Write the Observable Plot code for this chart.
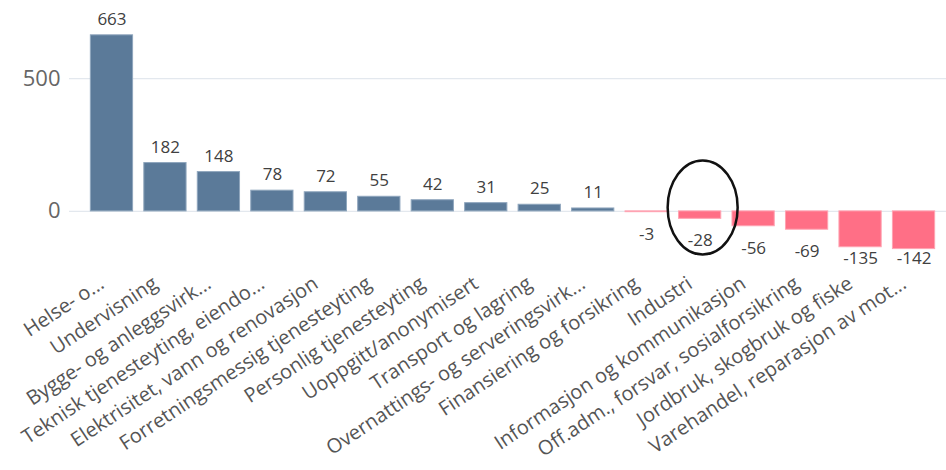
<!DOCTYPE html>
<html>
<head>
<meta charset="utf-8">
<script src="https://cdn.jsdelivr.net/npm/d3@7"></script>
<script src="https://cdn.jsdelivr.net/npm/@observablehq/plot@0.6"></script>
<style>
  html, body { margin: 0; padding: 0; background: #fff; }
  svg { display: block; }
</style>
</head>
<body>
<div id="chart"></div>
<script>
const categories = [
  "Helse- o...",
  "Undervisning",
  "Bygge- og anleggsvirk...",
  "Teknisk tjenesteyting, eiendo...",
  "Elektrisitet, vann og renovasjon",
  "Forretningsmessig tjenesteyting",
  "Personlig tjenesteyting",
  "Uoppgitt/anonymisert",
  "Transport og lagring",
  "Overnattings- og serveringsvirk...",
  "Finansiering og forsikring",
  "Industri",
  "Informasjon og kommunikasjon",
  "Off.adm., forsvar, sosialforsikring",
  "Jordbruk, skogbruk og fiske",
  "Varehandel, reparasjon av mot..."
];
const values = [663, 182, 148, 78, 72, 55, 42, 31, 25, 11, -3, -28, -56, -69, -135, -142];
const yTicks = [0, 500];
const highlighted = "Industri";

const data = categories.map((c, i) => ({category: c, value: values[i]}));
const pos = data.filter(d => d.value >= 0);
const neg = data.filter(d => d.value < 0);

const font = "'Open Sans', sans-serif";

const chart = Plot.plot({
  width: 946,
  height: 470,
  marginLeft: 85,
  marginRight: 6,
  marginTop: 25,
  marginBottom: 206,
  style: {fontFamily: font, background: "#fff"},
  x: {domain: categories, paddingInner: 0.21, paddingOuter: 0.1, round: false, label: null},
  y: {domain: [-200, 700], label: null},
  marks: [
    Plot.ruleY(yTicks, {stroke: "#e3e8ee", strokeWidth: 1.2, insetLeft: -16, insetRight: -6}),
    Plot.barY(data, {
      x: "category", y: "value",
      fill: d => d.value >= 0 ? "#5b7a99" : "#ff6f86",
      stroke: d => d.value >= 0 ? "#8fa6bd" : "#ffa3b2",
      strokeWidth: 1
    }),
    Plot.text(pos, {
      x: "category", y: "value", text: d => String(d.value),
      dy: -16, fontSize: 17, fill: "#404040"
    }),
    Plot.text(neg, {
      x: "category", y: d => Math.max(d.value - 83, -177), text: d => String(d.value),
      fontSize: 17, fill: "#404040"
    }),
    Plot.axisY(yTicks, {tickSize: 0, tickPadding: 25, fontSize: 22, fill: "#666", label: null}),
    Plot.axisX({tickSize: 0, tickRotate: -33.5, fontSize: 20, fill: "#555", label: null, tickPadding: 17, dx: -10})
  ]
});

document.getElementById("chart").appendChild(chart);

// Annotation ellipse around the highlighted category, placed via the chart's scales
const xs = chart.scale("x");
const ys = chart.scale("y");
const cx = xs.apply(highlighted) + xs.bandwidth / 2 + 3;
const cy = ys.apply(13);
d3.select(chart).append("ellipse")
  .attr("cx", cx).attr("cy", cy)
  .attr("rx", 35).attr("ry", 47)
  .attr("fill", "none").attr("stroke", "#111").attr("stroke-width", 2.5);
</script>
</body>
</html>
